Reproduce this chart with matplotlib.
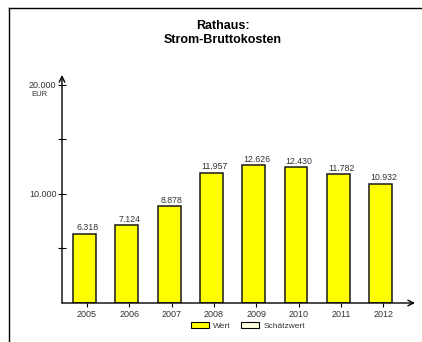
import matplotlib
matplotlib.use("Agg")
import matplotlib.pyplot as plt
from matplotlib.lines import Line2D
from matplotlib.patches import Patch

years = ["2005", "2006", "2007", "2008", "2009", "2010", "2011", "2012"]
wert = [6318, 7124, 8878, 11957, 12626, 12430, 11782, 10932]
yticks = [10000, 20000]
yticks_minor = [5000, 15000]


def fmt(v):
    return f"{v:,}".replace(",", ".")


plt.rcParams['font.family'] = ['Liberation Sans', 'DejaVu Sans']

fig = plt.figure(figsize=(4.22, 3.42), dpi=100)
ax = fig.add_axes([62 / 422, 39 / 342, 353 / 422, 228 / 342])

x = list(range(len(years)))
ax.bar(x, wert, width=0.54, color="#ffff00", edgecolor="#1a1a1a", linewidth=1.1, zorder=3)
for xi, v in zip(x, wert):
    ax.text(xi + 0.07, v + 150, fmt(v), ha="center", va="bottom", fontsize=6.3, color="#333333")

ax.set_xlim(-0.53, 7.81)
ax.set_ylim(0, 20900)
for s in ax.spines.values():
    s.set_visible(False)

# Achsen mit Pfeilspitzen
ax.annotate("", xy=(1, 0), xytext=(0, 0), xycoords="axes fraction",
            arrowprops=dict(arrowstyle="->", lw=1.0, color="black", shrinkA=0, shrinkB=0))
ax.annotate("", xy=(0, 1), xytext=(0, 0), xycoords="axes fraction",
            arrowprops=dict(arrowstyle="->", lw=1.0, color="black", shrinkA=0, shrinkB=0))

ax.set_xticks([xi + 0.06 for xi in x])
ax.set_xticklabels(years, fontsize=6.5, color="#333333")
ax.tick_params(axis="x", direction="out", length=3, width=0.8, pad=2)
ax.set_yticks(yticks)
ax.set_yticklabels([fmt(v) for v in yticks], fontsize=6.5, color="#333333")
ax.set_yticks(yticks_minor, minor=True)
ax.tick_params(axis="y", which="both", direction="inout", length=6, width=0.8, pad=1)
ax.text(-0.065, 19100, "EUR", transform=ax.get_yaxis_transform(), ha="center", va="center",
        fontsize=5.5, color="#333333")

fig.text(223 / 422, 1 - 33 / 342, "Rathaus:\nStrom-Bruttokosten", ha="center", va="center",
         fontsize=9, fontweight="bold", linespacing=1.3)

fig.add_artist(Line2D([9 / 422, 1], [1 - 8 / 342, 1 - 8 / 342], color="black", lw=1.0))
fig.add_artist(Line2D([9 / 422, 9 / 422], [0, 1 - 8 / 342], color="black", lw=1.0))

handles = [Patch(facecolor="#ffff00", edgecolor="black", lw=0.8, label="Wert"),
           Patch(facecolor="#ffffe0", edgecolor="black", lw=0.8, label="Schätzwert")]
fig.legend(handles=handles, loc="center", bbox_to_anchor=(248 / 422, 1 - 326 / 342), ncol=2,
           frameon=False, fontsize=6, handlelength=2.2, handleheight=0.6, handletextpad=0.5,
           columnspacing=1.2, labelcolor="#333333")

fig.savefig("out.png", dpi=100)
